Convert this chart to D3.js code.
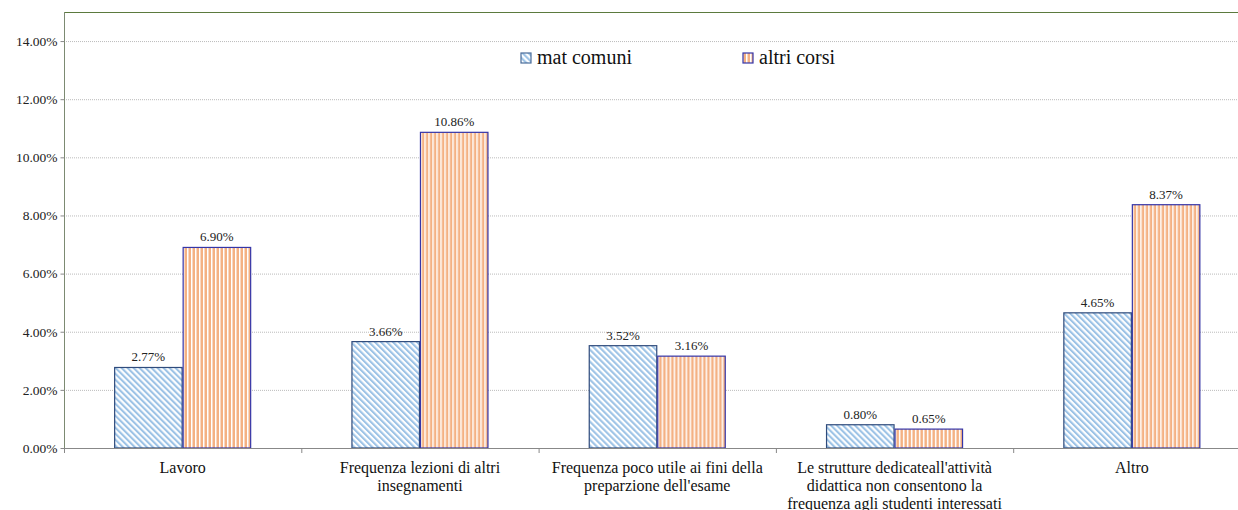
<!DOCTYPE html>
<html><head><meta charset="utf-8">
<script src="https://cdn.jsdelivr.net/npm/d3@7"></script>
<style>body{margin:0;background:#fff}svg{display:block}</style>
</head><body>
<script>
const categories = ["Lavoro", "Frequenza lezioni di altri\ninsegnamenti", "Frequenza poco utile ai fini della\npreparzione dell'esame", "Le strutture dedicateall'attività\ndidattica non consentono la\nfrequenza agli studenti interessati", "Altro"];
const seriesNames = ["mat comuni", "altri corsi"];
const matComuni = [2.77, 3.66, 3.52, 0.80, 4.65];
const altriCorsi = [6.90, 10.86, 3.16, 0.65, 8.37];
const yTicks = [0, 2, 4, 6, 8, 10, 12, 14];

(function () {
const W = 1238, H = 510;
const svg = d3.select("body").append("svg").attr("width", W).attr("height", H);
const defs = svg.append("defs");
const pb = defs.append("pattern").attr("id", "pBlue").attr("patternUnits", "userSpaceOnUse")
  .attr("width", 4.24).attr("height", 10).attr("patternTransform", "rotate(-45)");
pb.append("rect").attr("width", 4.24).attr("height", 10).attr("fill", "#fff");
pb.append("rect").attr("width", 2.1).attr("height", 10).attr("fill", "#9DC3E6");
const po = defs.append("pattern").attr("id", "pOrange").attr("patternUnits", "userSpaceOnUse")
  .attr("width", 4).attr("height", 10);
po.append("rect").attr("width", 4).attr("height", 10).attr("fill", "#fff");
po.append("rect").attr("x", 0.5).attr("width", 2.5).attr("height", 10).attr("fill", "#F4B183");

const fills = ["url(#pBlue)", "url(#pOrange)"];
const strokes = ["#2F4B7C", "#3535A8"];

const pL = 64, pR = 1250.5, pT = 12, pB = 448;
const x = d3.scaleBand().domain(categories).range([pL, pR]).padding(0);
const xs = d3.scaleBand().domain(seriesNames).range([0, x.bandwidth()]).paddingInner(0).paddingOuter(0.732);
const y = d3.scaleLinear().domain([0, 15]).range([pB, pT]);

svg.append("g").selectAll("line").data(yTicks.filter(d => d > 0)).join("line")
  .attr("x1", pL).attr("x2", W).attr("y1", d => y(d) + 0.5).attr("y2", d => y(d) + 0.5)
  .attr("stroke", "#bbb").attr("stroke-width", 1).attr("stroke-dasharray", "1,1");

svg.append("line").attr("x1", pL).attr("x2", W).attr("y1", pT + 0.5).attr("y2", pT + 0.5)
  .attr("stroke", "#5B7A3E").attr("stroke-width", 1.2);

const yAxis = d3.axisLeft(y).tickValues(yTicks).tickSize(4).tickFormat(d => d.toFixed(2) + "%");
const gy = svg.append("g").attr("transform", `translate(${pL + 0.5},0)`).call(yAxis);
gy.select(".domain").attr("stroke", "#7C8A72").attr("d", `M0,${pT}V${pB}`);
gy.selectAll(".tick line").attr("stroke", "#888");
gy.selectAll("text").attr("font-family", "Liberation Serif").attr("font-size", 13.5).attr("fill", "#222").attr("x", -7);

const data = categories.map((c, i) => ({ c, vals: [matComuni[i], altriCorsi[i]] }));
const groups = svg.append("g").selectAll("g").data(data).join("g")
  .attr("transform", d => `translate(${x(d.c)},0)`);
groups.selectAll("rect").data(d => d.vals.map((v, k) => ({ v, k }))).join("rect")
  .attr("x", d => xs(seriesNames[d.k]) + 0.5).attr("width", xs.bandwidth() - 1)
  .attr("y", d => y(d.v)).attr("height", d => pB - y(d.v))
  .attr("fill", d => fills[d.k]).attr("stroke", d => strokes[d.k]).attr("stroke-width", 1.2);
groups.selectAll("text.lbl").data(d => d.vals.map((v, k) => ({ v, k }))).join("text")
  .attr("class", "lbl")
  .attr("x", d => xs(seriesNames[d.k]) + xs.bandwidth() / 2).attr("y", d => y(d.v) - 6)
  .attr("text-anchor", "middle").attr("font-family", "Liberation Serif").attr("font-size", 13)
  .attr("fill", "#222").text(d => d.v.toFixed(2) + "%");

svg.append("line").attr("x1", pL).attr("x2", W).attr("y1", pB + 0.5).attr("y2", pB + 0.5)
  .attr("stroke", "#888").attr("stroke-width", 1.2);
svg.append("g").selectAll("line").data(categories).join("line")
  .attr("x1", d => x(d) + 0.5).attr("x2", d => x(d) + 0.5).attr("y1", pB).attr("y2", pB + 5)
  .attr("stroke", "#888");
svg.append("g").selectAll("text").data(categories).join("text")
  .attr("x", d => x(d) + x.bandwidth() / 2).attr("y", 473)
  .attr("text-anchor", "middle").attr("font-family", "Liberation Serif").attr("font-size", 16).attr("fill", "#111")
  .each(function (d) {
    const t = d3.select(this);
    d.split("\n").forEach((line, i) => {
      t.append("tspan").attr("x", x(d) + x.bandwidth() / 2).attr("dy", i === 0 ? 0 : 18).text(line);
    });
  });

const legX = [521, 743];
const lg = svg.append("g").selectAll("g").data(seriesNames).join("g")
  .attr("transform", (d, i) => `translate(${legX[i]},53)`);
lg.append("rect").attr("width", 10).attr("height", 10)
  .attr("fill", (d, i) => fills[i]).attr("stroke", (d, i) => i === 0 ? "#4A6D9A" : "#3535A8").attr("stroke-width", 1.2);
lg.append("text").attr("x", 16).attr("y", 11).attr("font-family", "Liberation Serif").attr("font-size", 20)
  .attr("fill", "#111").text(d => d);
})();
</script>
</body></html>
